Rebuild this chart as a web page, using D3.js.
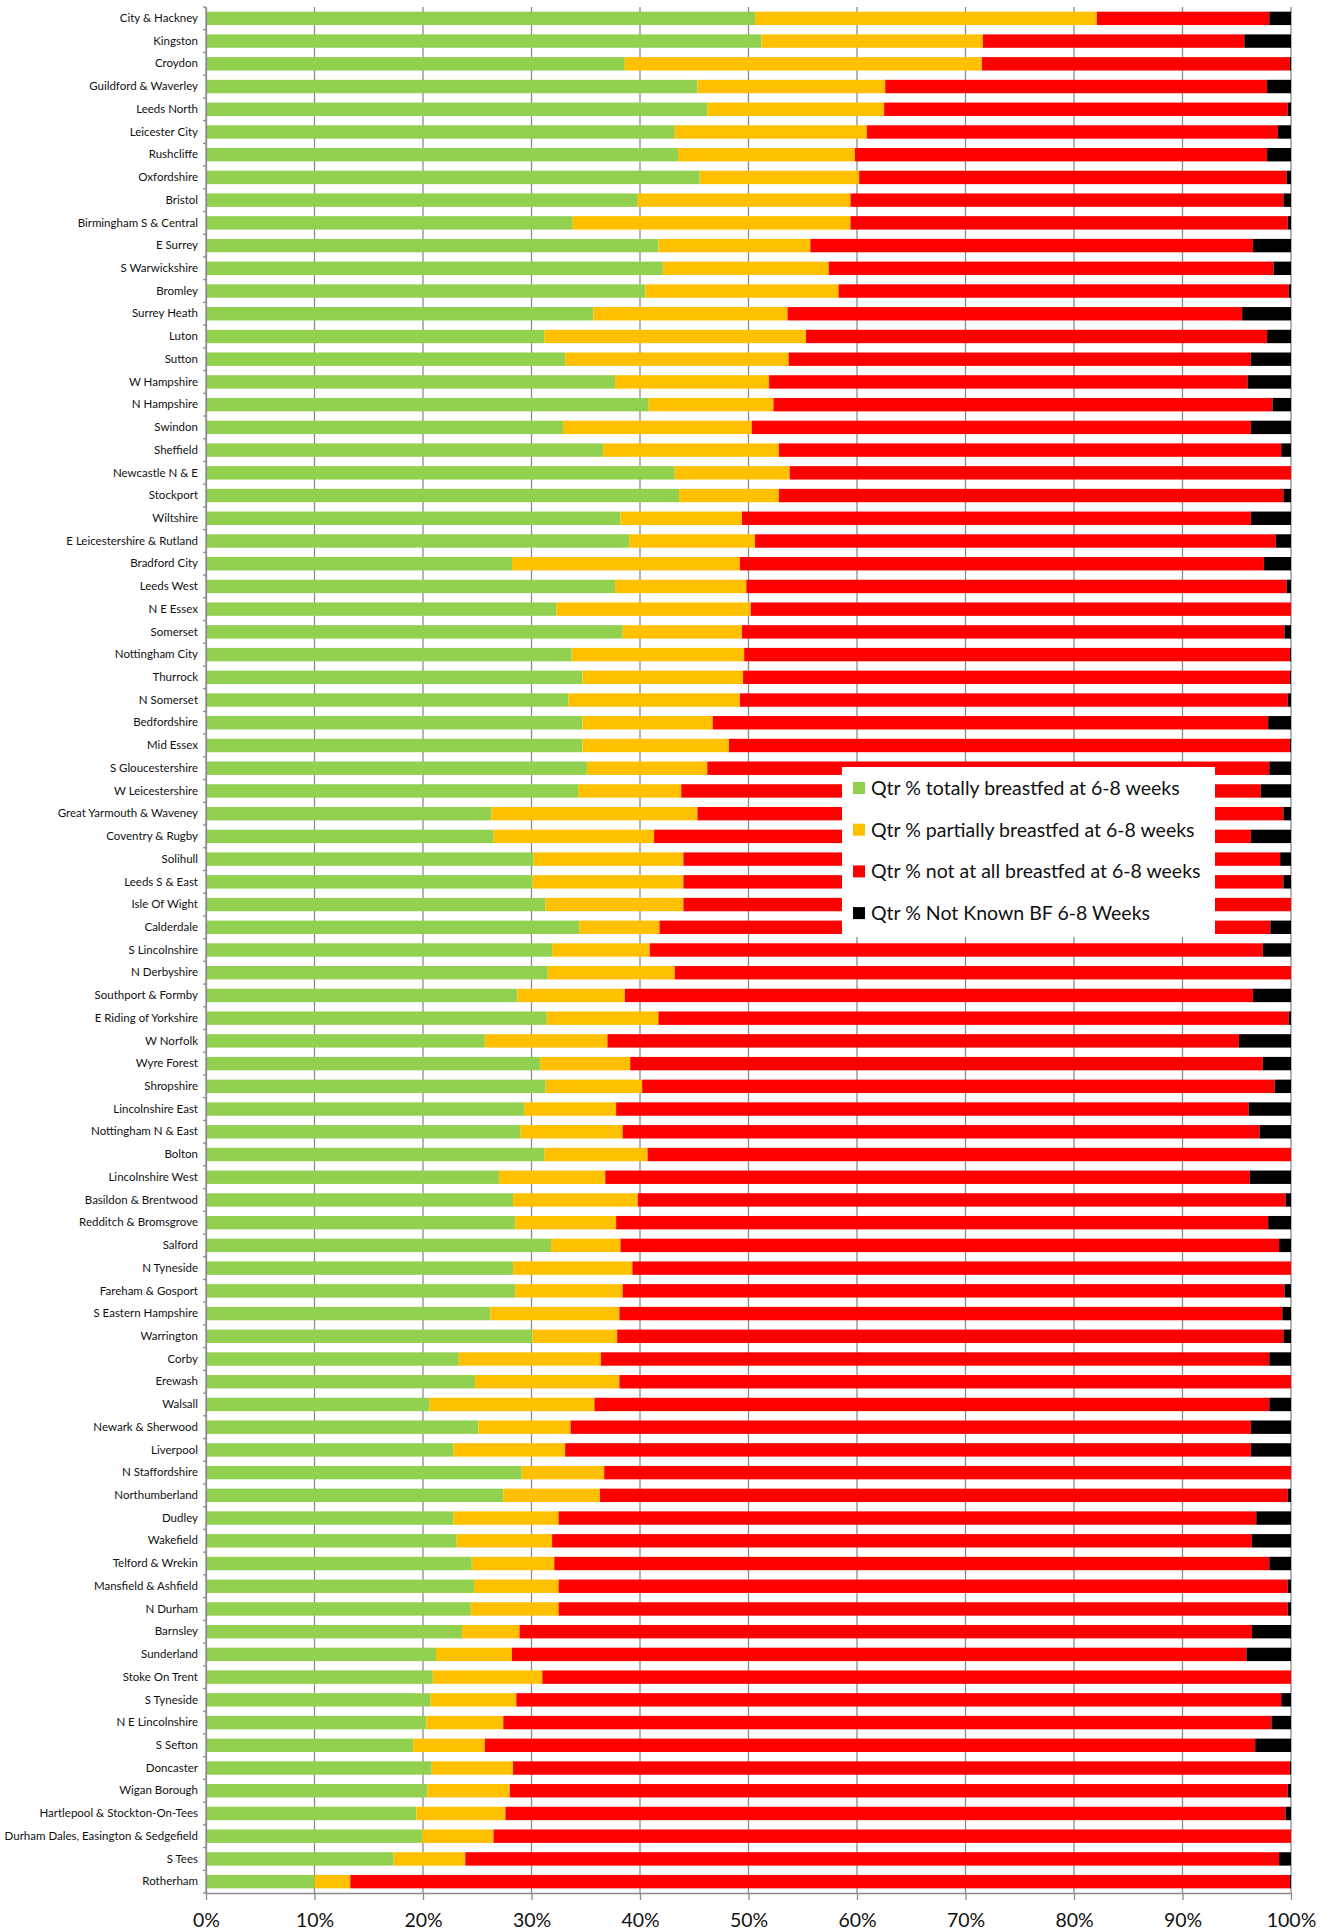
<!DOCTYPE html>
<html>
<head>
<meta charset="utf-8">
<script src="https://cdn.jsdelivr.net/npm/d3@7"></script>
<style>
  body { margin: 0; background: #fff; }
  text { font-family: Lato, "Open Sans", sans-serif; }
</style>
</head>
<body>
<div id="chart"></div>
<script>
var width = 1332;
var height = 1930;

// categories, top to bottom
var areas = ["City & Hackney","Kingston","Croydon","Guildford & Waverley","Leeds North","Leicester City",
  "Rushcliffe","Oxfordshire","Bristol","Birmingham S & Central","E Surrey","S Warwickshire","Bromley",
  "Surrey Heath","Luton","Sutton","W Hampshire","N Hampshire","Swindon","Sheffield","Newcastle N & E",
  "Stockport","Wiltshire","E Leicestershire & Rutland","Bradford City","Leeds West","N E Essex","Somerset",
  "Nottingham City","Thurrock","N Somerset","Bedfordshire","Mid Essex","S Gloucestershire","W Leicestershire",
  "Great Yarmouth & Waveney","Coventry & Rugby","Solihull","Leeds S & East","Isle Of Wight","Calderdale",
  "S Lincolnshire","N Derbyshire","Southport & Formby","E Riding of Yorkshire","W Norfolk","Wyre Forest",
  "Shropshire","Lincolnshire East","Nottingham N & East","Bolton","Lincolnshire West","Basildon & Brentwood",
  "Redditch & Bromsgrove","Salford","N Tyneside","Fareham & Gosport","S Eastern Hampshire","Warrington",
  "Corby","Erewash","Walsall","Newark & Sherwood","Liverpool","N Staffordshire","Northumberland","Dudley",
  "Wakefield","Telford & Wrekin","Mansfield & Ashfield","N Durham","Barnsley","Sunderland","Stoke On Trent",
  "S Tyneside","N E Lincolnshire","S Sefton","Doncaster","Wigan Borough","Hartlepool & Stockton-On-Tees",
  "Durham Dales, Easington & Sedgefield","S Tees","Rotherham"];

var totally = [50.6,51.2,38.6,45.3,46.2,43.2,43.5,45.5,39.8,33.8,41.7,42.1,40.5,35.7,31.2,33.1,37.7,40.8,32.9,36.6,
  43.2,43.6,38.2,39.0,28.2,37.7,32.3,38.4,33.7,34.7,33.4,34.7,34.7,35.1,34.3,26.3,26.5,30.2,30.1,31.3,
  34.4,31.9,31.5,28.7,31.4,25.7,30.8,31.3,29.3,29.0,31.2,27.0,28.3,28.5,31.8,28.3,28.5,26.2,30.1,23.3,
  24.8,20.6,25.1,22.8,29.1,27.4,22.8,23.1,24.5,24.7,24.4,23.6,21.2,20.9,20.7,20.3,19.1,20.8,20.4,19.4,
  19.9,17.3,10.0];
var partially = [31.5,20.4,32.9,17.3,16.3,17.7,16.3,14.7,19.6,25.6,14.0,15.3,17.8,17.9,24.1,20.6,14.2,11.5,17.4,16.2,
  10.6,9.2,11.2,11.6,21.0,12.1,17.9,11.0,15.9,14.8,15.8,12.0,13.5,11.1,9.5,19.0,14.8,13.8,13.9,12.7,
  7.4,9.0,11.7,9.9,10.3,11.3,8.3,8.9,8.5,9.4,9.5,9.8,11.5,9.3,6.4,11.0,9.9,11.9,7.8,13.1,
  13.3,15.2,8.5,10.3,7.6,8.9,9.7,8.8,7.6,7.8,8.1,5.3,7.0,10.1,7.9,7.1,6.6,7.5,7.6,8.2,
  6.6,6.6,3.3];
var notAtAll = [15.9,24.1,28.4,35.2,37.2,37.9,38.0,39.4,39.9,40.3,40.8,41.0,41.5,41.9,42.5,42.6,44.1,46.0,46.0,46.3,
  46.2,46.5,46.9,48.0,48.3,49.8,49.8,50.0,50.3,50.4,50.5,51.2,51.7,51.8,53.4,54.0,55.0,55.0,55.3,56.0,
  56.3,56.5,56.8,57.9,58.1,58.2,58.3,58.3,58.3,58.7,59.3,59.4,59.7,60.1,60.7,60.7,61.0,61.1,61.4,61.6,
  61.9,62.2,62.7,63.2,63.3,63.4,64.3,64.5,65.9,67.2,67.2,67.5,67.7,69.0,70.5,70.8,71.0,71.6,71.7,71.9,
  73.5,75.0,86.6];
var notKnown = [2.0,4.3,0.1,2.2,0.3,1.2,2.2,0.4,0.7,0.3,3.5,1.6,0.2,4.5,2.2,3.7,4.0,1.7,3.7,0.9,
  0.0,0.7,3.7,1.4,2.5,0.4,0.0,0.6,0.1,0.1,0.3,2.1,0.1,2.0,2.8,0.7,3.7,1.0,0.7,0.0,
  1.9,2.6,0.0,3.5,0.2,4.8,2.6,1.5,3.9,2.9,0.0,3.8,0.5,2.1,1.1,0.0,0.6,0.8,0.7,2.0,
  0.0,2.0,3.7,3.7,0.0,0.3,3.2,3.6,2.0,0.3,0.3,3.6,4.1,0.0,0.9,1.8,3.3,0.1,0.3,0.5,
  0.0,1.1,0.1];

var seriesNames = ["Qtr % totally breastfed at 6-8 weeks","Qtr % partially breastfed at 6-8 weeks",
  "Qtr % not at all breastfed at 6-8 weeks","Qtr % Not Known BF 6-8 Weeks"];
var colors = ["#92D050","#FFC000","#FF0000","#000000"];
var xTicks = [0,10,20,30,40,50,60,70,80,90,100];

var rows = areas.map(function(a, i) {
  return {area: a, s0: totally[i], s1: partially[i], s2: notAtAll[i], s3: notKnown[i]};
});

var margin = {top: 7, right: 41, bottom: 37, left: 206};

var svg = d3.select("#chart").append("svg")
  .attr("width", width)
  .attr("height", height);

var x = d3.scaleLinear().domain([0, 100]).range([margin.left, width - margin.right]);
var y = d3.scaleBand().domain(areas)
  .range([margin.top, height - margin.bottom])
  .paddingInner(0.41).paddingOuter(0.205);

// gridlines
svg.append("g").selectAll("line")
  .data(xTicks)
  .join("line")
  .attr("x1", d => x(d)).attr("x2", d => x(d))
  .attr("y1", margin.top).attr("y2", height - margin.bottom)
  .attr("stroke", "#8c8c8c")
  .attr("stroke-width", 1.3);

// bars
var stack = d3.stack().keys(["s0","s1","s2","s3"]);
var layers = stack(rows);

svg.append("g").selectAll("g")
  .data(layers)
  .join("g")
  .attr("fill", (d, i) => colors[i])
  .selectAll("rect")
  .data(d => d)
  .join("rect")
  .attr("x", d => x(d[0]))
  .attr("y", d => y(d.data.area))
  .attr("width", d => Math.max(0, x(d[1]) - x(d[0])))
  .attr("height", y.bandwidth());

// x axis
var xAxis = svg.append("g")
  .attr("transform", "translate(0," + (height - margin.bottom) + ")")
  .call(d3.axisBottom(x).tickValues(xTicks).tickFormat(d => d + "%").tickSize(7).tickSizeOuter(0));
xAxis.select(".domain").attr("stroke", "#8c8c8c").attr("stroke-width", 1.3);
xAxis.selectAll(".tick line").attr("stroke", "#8c8c8c").attr("stroke-width", 1.3);
xAxis.selectAll(".tick text")
  .attr("y", 20)
  .attr("fill", "#111")
  .style("font-size", "19.5px")
  .style("font-family", "Lato, sans-serif");

// y axis
var yAxis = svg.append("g")
  .attr("transform", "translate(" + margin.left + ",0)")
  .call(d3.axisLeft(y).tickSize(0).tickPadding(8));
yAxis.select(".domain").attr("stroke", "#8c8c8c").attr("stroke-width", 1.3);
yAxis.selectAll(".tick text")
  .attr("fill", "#111")
  .style("font-size", "11.5px")
  .style("font-family", "Lato, sans-serif");

// little category ticks at band edges
var step = y.step();
svg.append("g").selectAll("line")
  .data(d3.range(areas.length + 1))
  .join("line")
  .attr("x1", margin.left - 3).attr("x2", margin.left)
  .attr("y1", i => margin.top + i * step).attr("y2", i => margin.top + i * step)
  .attr("stroke", "#8c8c8c")
  .attr("stroke-width", 1.3);

// legend
var lg = svg.append("g").attr("transform", "translate(842,767)");
lg.append("rect")
  .attr("width", 373).attr("height", 170)
  .attr("fill", "white");
var items = lg.selectAll("g.item")
  .data(seriesNames)
  .join("g")
  .attr("class", "item")
  .attr("transform", (d, i) => "translate(0," + (21 + i * 41.7) + ")");
items.append("rect")
  .attr("x", 11).attr("y", -6)
  .attr("width", 12).attr("height", 12)
  .attr("fill", (d, i) => colors[i]);
items.append("text")
  .attr("x", 29).attr("y", 0)
  .attr("dy", "0.35em")
  .attr("fill", "#111")
  .style("font-size", "19.5px")
  .text(d => d);
</script>
</body>
</html>
